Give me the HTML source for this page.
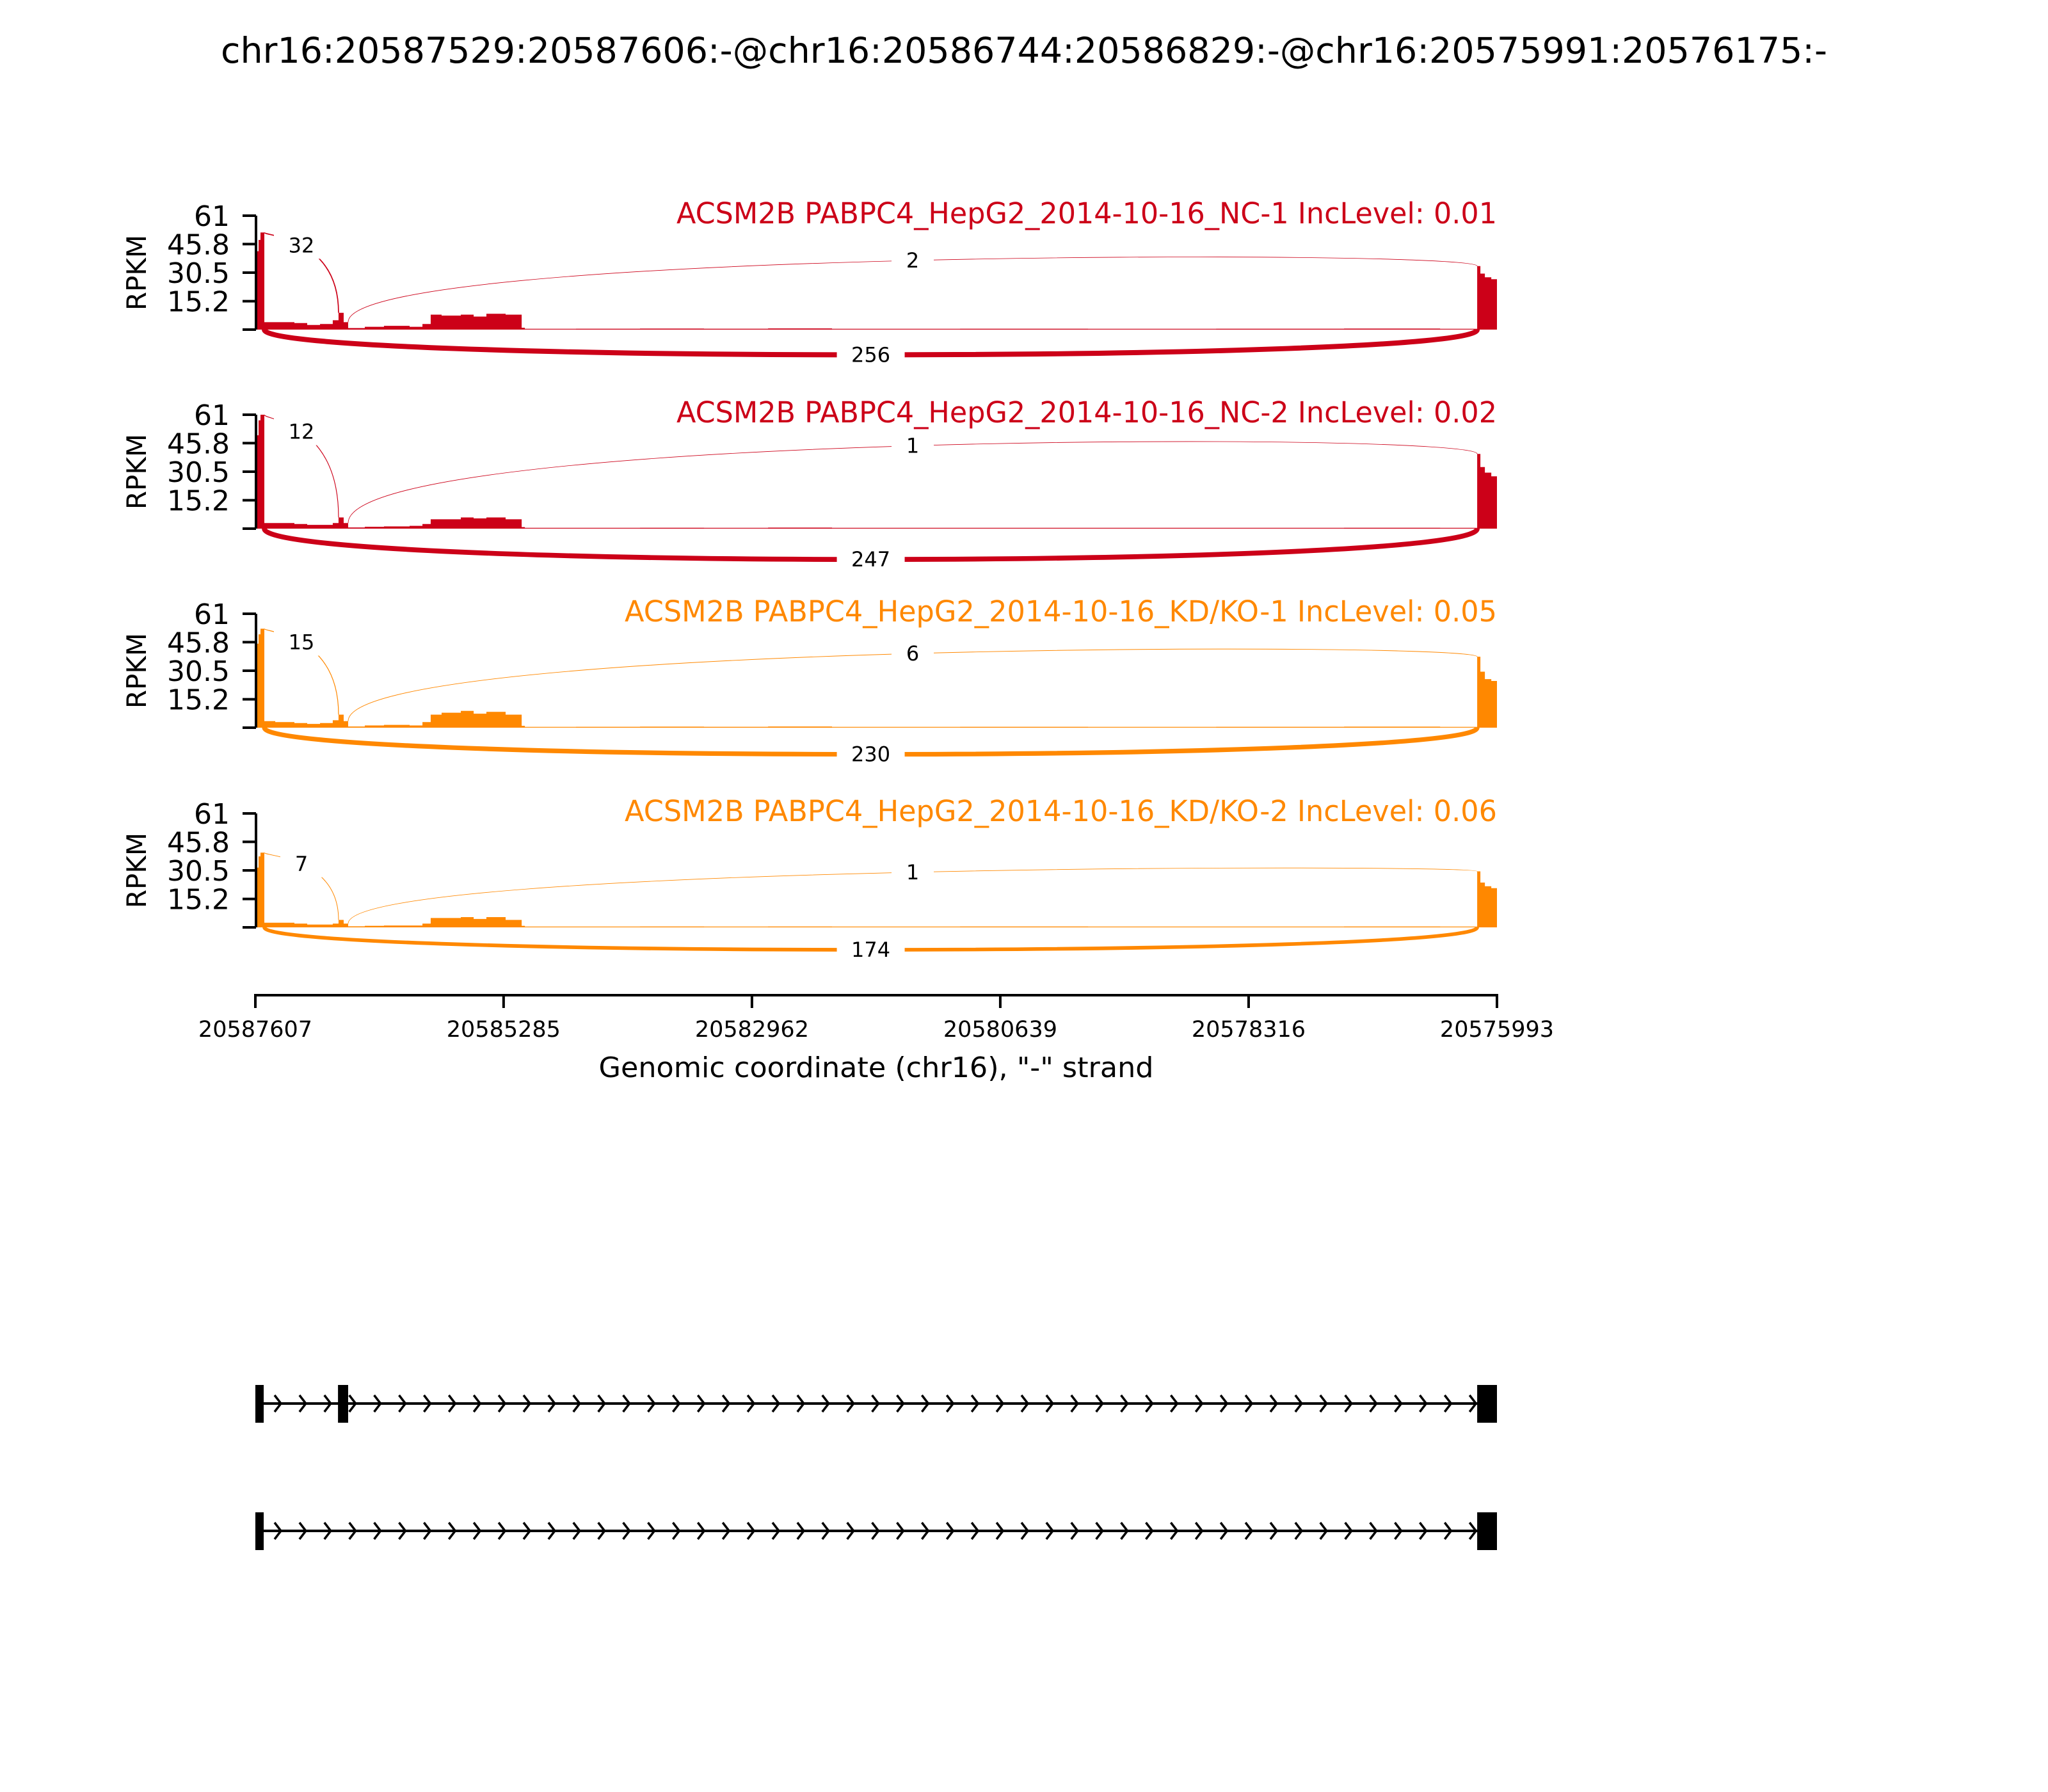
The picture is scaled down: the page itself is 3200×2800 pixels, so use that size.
<!DOCTYPE html>
<html><head><meta charset="utf-8"><style>
html,body{margin:0;padding:0;background:#fff;}
svg{display:block;font-family:"DejaVu Sans","Liberation Sans",sans-serif;}
</style></head><body>
<svg id="fig" width="3200" height="2800" viewBox="0 0 3200 2800" xmlns="http://www.w3.org/2000/svg">
<rect width="3200" height="2800" fill="#fff"/>
<text x="1600" y="98" font-size="55" text-anchor="middle" fill="#000" textLength="2510" lengthAdjust="spacingAndGlyphs">chr16:20587529:20587606:-@chr16:20586744:20586829:-@chr16:20575991:20576175:-</text>
</svg>
<script>
// ---- data ----
const sampleNames = ["ACSM2B PABPC4_HepG2_2014-10-16_NC-1 IncLevel: 0.01","ACSM2B PABPC4_HepG2_2014-10-16_NC-2 IncLevel: 0.02","ACSM2B PABPC4_HepG2_2014-10-16_KD/KO-1 IncLevel: 0.05","ACSM2B PABPC4_HepG2_2014-10-16_KD/KO-2 IncLevel: 0.06"];
const sampleColors = ["#cc0018","#cc0018","#ff8800","#ff8800"];
const yTicks = [0,15.2,30.5,45.8,61];
const yTickLabels = ["","15.2","30.5","45.8","61"];
const yMax = 61;
const xTickLabels = ["20587607","20585285","20582962","20580639","20578316","20575993"];
const xTickBp = [0,2322,4645,6968,9291,11614];
const regionLen = 11614;
// coverage breakpoints (bp offset from left edge)
const covBp = [0,12,30,48,84,186,365,485,605,724,778,802,826,868,1024,1203,1443,1563,1640,1742,1922,2042,2161,2341,2491,2521,2999,3598,4197,4796,5394,6592,7789,8987,10184,11082,11429,11459,11501,11561,11614];
const cov1 = [30,42,48,52,4,4,3.5,2.5,3,5,9,9,4,0.8,1.5,2,1.5,3,8,7.5,8,7,8.5,8,1,0.3,0.4,0.5,0.4,0.6,0.3,0.4,0.3,0.4,0.5,0.3,34,30,28,27,0];
const cov2 = [35,50,58,61,3,3,2.5,2,2,3,6,6,3,0.6,1,1.2,1.5,2.5,5,5,6,5.5,6,5,0.8,0.3,0.3,0.4,0.3,0.5,0.3,0.3,0.3,0.3,0.4,0.3,40,33,30,28,0];
const cov3 = [30,45,50,53,3.5,3,2.5,2,2.5,4,7,7,3.5,0.6,1.2,1.5,1.2,3,7,8,9,7.5,8.5,7,1,0.3,0.4,0.5,0.4,0.6,0.3,0.4,0.3,0.4,0.5,0.3,38,30,26,25,0];
const cov4 = [20,32,38,40,2.5,2.5,2,1.5,1.5,2,4,4,2,0.5,0.8,1,1,2,5,5,5.5,4.5,5.5,4,0.8,0.3,0.3,0.4,0.3,0.4,0.3,0.4,0.3,0.3,0.4,0.3,30,24,22,21,0];
const coverage = [cov1,cov2,cov3,cov4];
// junctions
const shortJuncCounts = [32,12,15,7];
const longJuncCounts = [2,1,6,1];
const skipJuncCounts = [256,247,230,174];
const shortArcPeak = [50,58,51,38];
const longArcPeak = [43,52,46,34];
const skipArcDip = [18,22,19,16];
const juncShort = [84,778];
const juncLong = [868,11429];
const juncSkip = [84,11429];
// gene model exons (bp)
const isoform1Exons = [[0,78],[773,868],[11429,11614]];
const isoform2Exons = [[0,78],[11429,11614]];

// ---- layout ----
const X0 = 399, X1 = 2339;
const panelTops = [337,648,959,1271];
const panelH = 178;
const labelWidths = [1282,1282,1363,1363];
const NS = "http://www.w3.org/2000/svg";
const svg = document.getElementById('fig');
function el(tag, attrs, parent){const e=document.createElementNS(NS,tag);for(const k in attrs)e.setAttribute(k,attrs[k]);(parent||svg).appendChild(e);return e;}
const xs = bp => X0 + bp/regionLen*(X1-X0);

coverage.forEach((cov, si) => {
  const top = panelTops[si], base = top + panelH;
  const ys = v => base - v/yMax*panelH;
  const col = sampleColors[si];
  const g = el('g', {});
  
  
  const bl = el('line', {x1:X0,x2:X1,y1:base-1,y2:base-1,stroke:col,'stroke-width':1.5,opacity:0.35}, g);
  
  
  let d = `M${xs(covBp[0])},${base}`;
  for (let i=0;i<covBp.length-1;i++){
    d += ` L${xs(covBp[i])},${ys(cov[i])} L${xs(covBp[i+1])},${ys(cov[i])}`;
  }
  d += ` L${xs(covBp[covBp.length-1])},${base} Z`;
  const area = el('path', {d, fill:col}, g);
  
  
  const covAt = bp => { let k=0; for(let i=0;i<covBp.length;i++){ if(covBp[i]<=bp) k=i; } return cov[k]; };
  const covBefore = bp => { let k=0; for(let i=0;i<covBp.length;i++){ if(covBp[i]<bp) k=i; } return cov[k]; };
  function arc(j, count, ctrlY, y1, y2, name){
    const xa = xs(j[0]), xb = xs(j[1]);
    const w = 0.8 + count*0.028;
    const p = el('path', {d:`M${xa},${y1} C${xa},${ctrlY} ${xb},${ctrlY} ${xb},${y2}`, fill:'none', stroke:col, 'stroke-width':w}, g);
    
    
    const mx = (xa+xb)/2, my = 0.125*y1 + 0.75*ctrlY + 0.125*y2;
    const txt = String(count);
    const bw = txt.length*20 + 46;
    const r = el('rect', {x:mx-bw/2, y:my-21, width:bw, height:42, fill:'#fff'}, g);
    
    
    const t = el('text', {x:mx, y:my+11, 'font-size':32, 'text-anchor':'middle', fill:'#000'}, g);
    t.textContent = txt;
    
    
  }
  arc(juncShort, shortJuncCounts[si], ys(shortArcPeak[si]), ys(covBefore(juncShort[0])), ys(covAt(juncShort[1])), 'short-junction');
  arc(juncLong, longJuncCounts[si], ys(longArcPeak[si]), ys(covBefore(juncLong[0])), ys(covAt(juncLong[1])), 'long-junction');
  arc(juncSkip, skipJuncCounts[si], base + skipArcDip[si]/yMax*panelH, base, base, 'skipping-junction');
  const sp = el('line', {x1:X0+1,x2:X0+1,y1:top,y2:base,stroke:'#000','stroke-width':4}, g);
  
  
  yTicks.forEach((v, ti) => {
    const tk = el('line', {x1:X0-20,x2:X0+1,y1:ys(v),y2:ys(v),stroke:'#000','stroke-width':4}, g);
    
    
    if (yTickLabels[ti]) {
      const tl = el('text', {x:X0-40, y:ys(v)+16, 'font-size':44, 'text-anchor':'end', fill:'#000'}, g);
      tl.textContent = yTickLabels[ti];
      
      
    }
  });
  const yl = el('text', {x:0, y:0, 'font-size':42, 'text-anchor':'middle', fill:'#000', transform:`translate(228,${top+panelH/2}) rotate(-90)`}, g);
  yl.textContent = 'RPKM';
  
  
  const lab = el('text', {x:X1-labelWidths[si], y:top+12, 'font-size':45, fill:col, textLength:labelWidths[si], lengthAdjust:'spacingAndGlyphs'}, g);
  lab.textContent = sampleNames[si];
  
  
});

// x axis
const xa = el('g', {});


const xl = el('line', {x1:X0-1,x2:X1+2,y1:1555,y2:1555,stroke:'#000','stroke-width':4}, xa);


xTickBp.forEach((b, i) => {
  const tk = el('line', {x1:xs(b),x2:xs(b),y1:1553,y2:1575,stroke:'#000','stroke-width':4}, xa);
  
  
  const t = el('text', {x:xs(b), y:1620, 'font-size':35, 'text-anchor':'middle', fill:'#000'}, xa);
  t.textContent = xTickLabels[i];
  
  
});
const xt = el('text', {x:(X0+X1)/2, y:1683, 'font-size':44, 'text-anchor':'middle', fill:'#000', textLength:867, lengthAdjust:'spacingAndGlyphs'}, xa);
xt.textContent = 'Genomic coordinate (chr16), "-" strand';



// gene model
[[isoform1Exons, 2193], [isoform2Exons, 2392]].forEach(([exons, y], ii) => {
  const g = el('g', {});
  
  
  const ln = el('line', {x1:X0, x2:X1, y1:y, y2:y, stroke:'#000', 'stroke-width':4}, g);
  
  
  for (let cx = 439; cx < 2318; cx += 38.9) {
    const c = el('path', {d:`M${cx-10},${y-13} L${cx},${y} L${cx-10},${y+13}`, fill:'none', stroke:'#000', 'stroke-width':3.5}, g);
    
    
  }
  exons.forEach(e => {
    const r = el('rect', {x:xs(e[0]), y:y-29, width:xs(e[1])-xs(e[0]), height:59, fill:'#000'}, g);
    
    
  });
});
</script>
</body></html>
